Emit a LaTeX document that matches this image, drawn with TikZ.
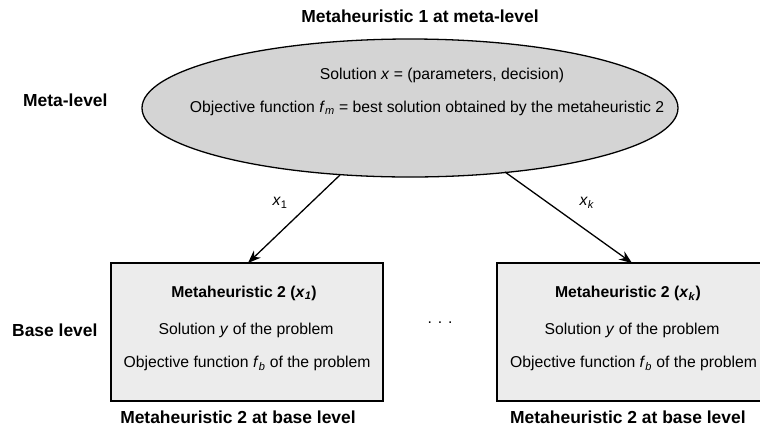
\documentclass[tikz,border=0pt]{standalone}
\usepackage{fontspec}
\setmainfont{Liberation Sans}
\usetikzlibrary{arrows.meta,shapes.geometric}
\newcommand{\iv}[1]{\textit{#1}}
\newcommand{\isub}[2]{\textit{#1}\textsubscript{\textit{#2}}}
\definecolor{ellfill}{RGB}{212,212,212}
\definecolor{boxfill}{RGB}{236,236,236}
\tikzset{
  lbl/.style={font=\fontsize{17.5}{20}\selectfont\bfseries, inner sep=0pt},
  txt/.style={font=\fontsize{15.8}{18}\selectfont, inner sep=0pt},
  metabox/.style={draw=black, line width=1.3pt, fill=boxfill},
  link/.style={-{Stealth[length=13pt,width=10pt]}, line width=1.3pt},
}
\begin{document}
\begin{tikzpicture}[x=1bp,y=-1bp]
\useasboundingbox (0,0) rectangle (760,430);
\clip (0,0) rectangle (760,430);
% meta-level metaheuristic
\node[ellipse, draw=black, line width=1.3pt, fill=ellfill,
      minimum width=536bp, minimum height=138bp, inner sep=0pt] (meta) at (410,108) {};
\node[lbl] (title) at (420,16) {Metaheuristic 1 at meta-level};
\node[lbl, anchor=west] (metalvl) at (23,100) {Meta-level};
\node[txt] (msol) at (442,75) {Solution \iv{x} = (parameters, decision)};
\node[txt] (mobj) at (427,108) {Objective function \isub{f}{m} = best solution obtained by the metaheuristic 2};
% base-level metaheuristics
\draw[metabox] (111,263) rectangle (383,401);
\draw[metabox] (497,263) rectangle (769,401);
\coordinate (b1) at (248,263);
\coordinate (bk) at (632,263);
\coordinate (s1) at (340,175);
\coordinate (sk) at (505,172);
\node[lbl, anchor=west] (baselvl) at (12,330) {Base level};
\node[txt] (b1h) at (244,293) {\bfseries Metaheuristic 2 (\isub{x}{1})};
\node[txt] (b1s) at (246,330) {Solution \iv{y} of the problem};
\node[txt] (b1o) at (247,363) {Objective function \isub{f}{b} of the problem};
\node[txt] (bkh) at (628,293) {\bfseries Metaheuristic 2 (\isub{x}{k})};
\node[txt] (bks) at (632,330) {Solution \iv{y} of the problem};
\node[txt, anchor=west] (bko) at (510,363) {Objective function \isub{f}{b} of the problem};
\node[lbl] (c1) at (238,417) {Metaheuristic 2 at base level};
\node[lbl, anchor=west] (ck) at (510,417) {Metaheuristic 2 at base level};
\node[txt] (dots) at (440,323) {. . .};
% links
\draw[link] (s1) -- (b1);
\draw[link] (sk) -- (bk);
\node[txt] (l1) at (280,203) {\iv{x}\textsubscript{1}};
\node[txt] (lk) at (587,203) {\isub{x}{k}};
\end{tikzpicture}
\end{document}
